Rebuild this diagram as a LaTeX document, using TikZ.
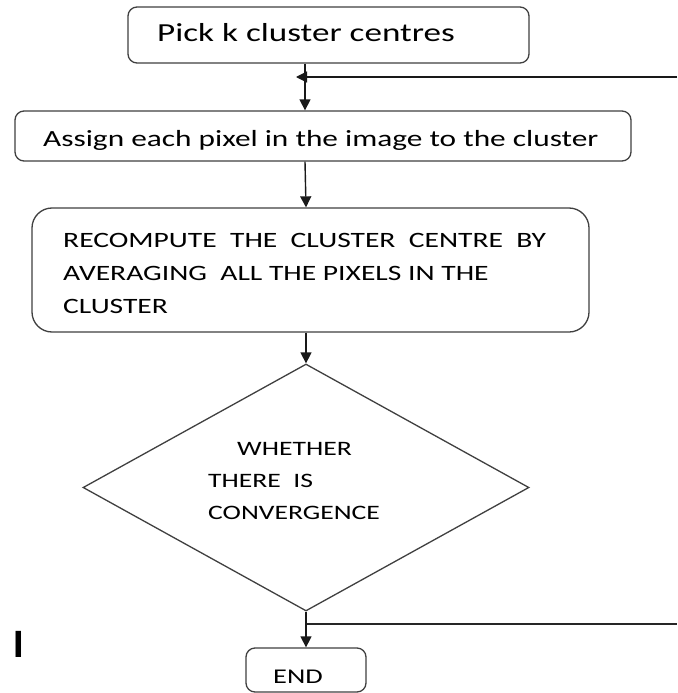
\documentclass[tikz,border=0pt]{standalone}
\usepackage{fontspec}
\setmainfont{Carlito}
\newfontfamily\flowfont[FakeStretch=1.35]{Carlito}
\newfontfamily\strayfont{Liberation Sans}
\usetikzlibrary{arrows.meta,shapes.geometric}
\tikzset{
  x=1pt, y=-1pt,
  box/.style={draw=black!75, line width=1.3pt, rounded corners=9pt, inner sep=0pt},
  bigbox/.style={box, rounded corners=20pt},
  decision/.style={draw=black!75, line width=1.3pt, shape=diamond, inner sep=0pt},
  txt/.style={anchor=base west, inner sep=0pt, text=black, align=left},
  arr/.style={draw=black!90, line width=1.4pt, -{Triangle[length=11pt,width=11pt]}},
  link/.style={draw=black!85, line width=1.3pt}
}
\begin{document}
\begin{tikzpicture}
\useasboundingbox[fill=white] (0,0) rectangle (677,693);
% boxes
\node[box, minimum width=401pt, minimum height=56pt] (b1) at (328.5,35) {};
\node[box, minimum width=616pt, minimum height=50pt] (b2) at (323,136) {};
\node[bigbox, minimum width=557pt, minimum height=124pt] (b3) at (310.5,270) {};
\node[decision, minimum width=446pt, minimum height=247pt] (d) at (306,487.5) {};
\node[box, minimum width=120pt, minimum height=44pt] (e) at (306,670) {};
% texts (multi-line nodes are placed by the baseline of their last line)
\node[txt, font=\flowfont\fontsize{26}{30}\selectfont] (t1) at (157,42) {Pick k cluster centres};
\node[txt, font=\flowfont\fontsize{23.2}{30}\selectfont] (t2) at (43,146) {Assign each pixel in the image to the cluster};
\node[txt, font=\flowfont\fontsize{21.9}{33}\selectfont] (t3) at (63,313) {RECOMPUTE\ \ THE\ \ CLUSTER\ \ CENTRE\ \ BY\\AVERAGING\ \ ALL THE PIXELS IN THE\\CLUSTER};
\node[txt, font=\flowfont\fontsize{20.5}{32}\selectfont] (t4) at (208,519) {\hspace*{29pt}WHETHER\\THERE\ \ IS\\CONVERGENCE};
\node[txt, font=\flowfont\fontsize{21}{30}\selectfont] (t5) at (273,683) {END};
\node[txt, font=\strayfont\bfseries\fontsize{38}{40}\selectfont] (t6) at (13,657) {I};
% junctions
\coordinate (j1) at (305,77);
\coordinate (r1) at (677,77);
\coordinate (j2) at (307,624);
\coordinate (r2) at (677,624);
% connectors
\draw[arr] (b1.south -| j1) -- (b2.north -| j1);
\draw[arr] (r1) -- ([xshift=-9pt]j1);
\draw[arr] (b2.south -| j1) -- (b3.north -| d.north);
\draw[arr] (b3.south -| d.north) -- (d.north);
\draw[arr] (d.south) -- (e.north -| d.south);
\draw[link] (j2) -- (r2);
\end{tikzpicture}
\end{document}
